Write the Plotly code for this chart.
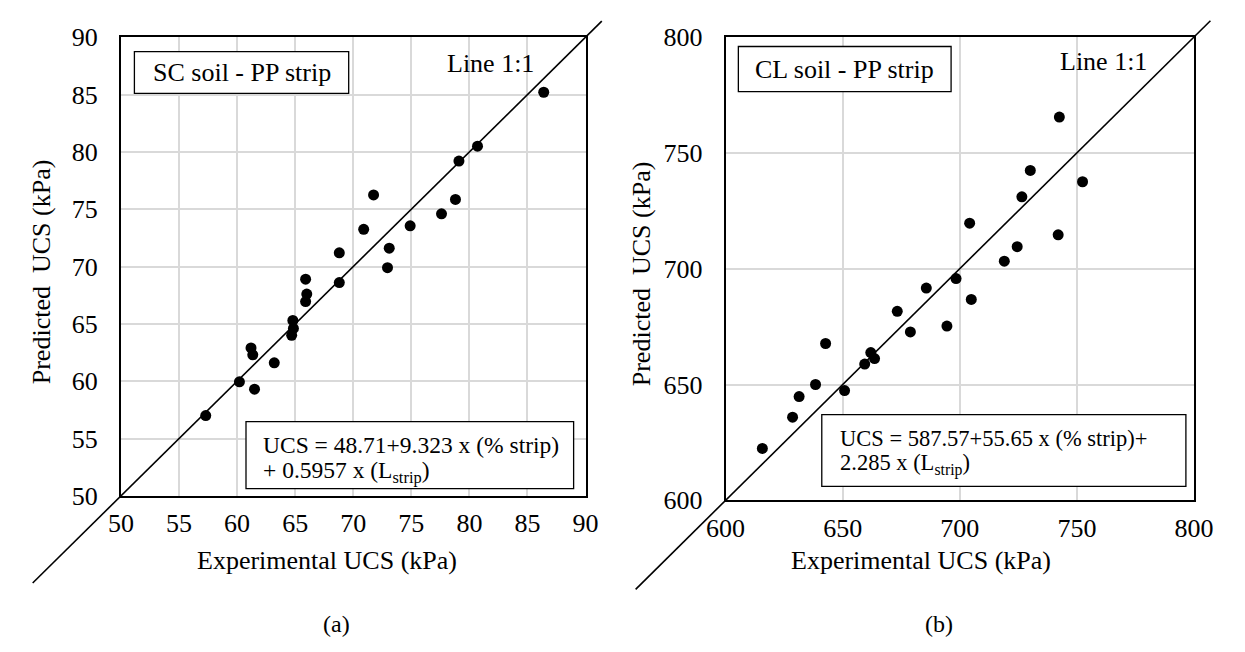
import plotly.graph_objects as go

# ---------------- data ----------------
sc_exp = [57.3, 60.2, 61.2, 61.35, 61.5, 63.2, 64.7, 64.85, 64.8, 65.9, 66.0, 65.9,
          68.8, 68.8, 70.9, 71.75, 72.95, 73.1, 74.9, 77.6, 78.8, 79.1, 80.7, 86.4]
sc_pred = [57.0, 59.95, 62.9, 62.3, 59.3, 61.6, 64.0, 64.6, 65.3, 66.95, 67.6, 68.9,
           68.6, 71.2, 73.25, 76.25, 69.9, 71.6, 73.55, 74.6, 75.85, 79.2, 80.5, 85.2]

cl_exp = [615.7, 628.6, 631.4, 638.4, 642.7, 650.8, 659.4, 662.0, 663.6, 673.3, 678.9, 685.7,
          694.5, 698.4, 704.2, 704.9, 719.0, 724.5, 726.5, 730.1, 742.0, 742.5, 752.4]
cl_pred = [622.4, 635.9, 644.8, 650.0, 667.7, 647.4, 658.8, 663.8, 661.2, 681.6, 672.7, 691.6,
           675.2, 695.7, 719.6, 686.7, 703.2, 709.5, 731.0, 742.4, 714.6, 765.4, 737.5]

sc_ticks = [50, 55, 60, 65, 70, 75, 80, 85, 90]
cl_ticks = [600, 650, 700, 750, 800]

x_title = "Experimental UCS (kPa)"
y_title = "Predicted\u00a0 UCS (kPa)"
panel_a = "SC soil - PP strip"
panel_b = "CL soil - PP strip"
eq_a = ["UCS = 48.71+9.323 x (% strip)", "+ 0.5957 x (L<sub>strip</sub>)"]
eq_b = ["UCS = 587.57+55.65 x (% strip)+", "2.285 x (L<sub>strip</sub>)"]

# ---------------- layout helpers (pixel -> paper) ----------------
W, H = 1245, 652


def fx(X):
    return X / W


def fy(Y):
    return 1 - Y / H


FONT = "Liberation Serif, Times New Roman, serif"
FS = 26
black = "#000000"

fig = go.Figure()
fig.add_trace(go.Scatter(x=sc_exp, y=sc_pred, mode="markers", xaxis="x", yaxis="y",
                         marker=dict(size=11, color=black), showlegend=False))
fig.add_trace(go.Scatter(x=cl_exp, y=cl_pred, mode="markers", xaxis="x2", yaxis="y2",
                         marker=dict(size=11, color=black), showlegend=False))

ax_common = dict(showgrid=True, gridcolor="#d9d9d9", gridwidth=1.5, zeroline=False,
                 showline=True, mirror=True, linecolor=black, linewidth=2,
                 ticks="", tickfont=dict(family=FONT, size=FS, color=black),
                 fixedrange=True)

L = dict(x0=104.3, x1=584.3, y0=24.3, y1=504.3)
R = dict(x0=729.0, x1=1213.0, y0=24.0, y1=509.0)

fig.update_layout(
    width=W, height=H, margin=dict(l=0, r=0, t=0, b=0),
    paper_bgcolor="white", plot_bgcolor="white",
    font=dict(family=FONT, size=FS, color=black),
    xaxis=dict(domain=[fx(L["x0"]), fx(L["x1"])], range=[50, 90], tickvals=sc_ticks,
               anchor="y", ticklabelstandoff=3, **ax_common),
    yaxis=dict(domain=[fy(L["y1"]), fy(L["y0"])], range=[50, 90], tickvals=sc_ticks,
               anchor="x", ticklabelstandoff=16, **ax_common),
    xaxis2=dict(domain=[fx(R["x0"]), fx(R["x1"])], range=[600, 800], tickvals=cl_ticks,
                anchor="y2", ticklabelstandoff=3, **ax_common),
    yaxis2=dict(domain=[fy(R["y1"]), fy(R["y0"])], range=[600, 800], tickvals=cl_ticks,
                anchor="x2", ticklabelstandoff=16, **ax_common),
)

shapes = []
# 1:1 lines (domain refs so they extend past the frame like the original)
for xr, yr, lo, hi in [("x domain", "y domain", -0.19, 1.035),
                       ("x2 domain", "y2 domain", -0.192, 1.035)]:
    shapes.append(dict(type="line", xref=xr, yref=yr, x0=lo, y0=lo, x1=hi, y1=hi,
                       line=dict(color=black, width=1.6), layer="above"))

boxes = [(118.2, 39.3, 339.6, 83.0), (742.2, 34.0, 962.0, 81.3),
         (233.5, 426.7, 572.0, 496.7), (828.4, 419.3, 1204.6, 494.3)]
for (a, b, c, d) in boxes:
    shapes.append(dict(type="rect", xref="paper", yref="paper",
                       x0=fx(a), x1=fx(c), y0=fy(d), y1=fy(b),
                       line=dict(color=black, width=1.3), fillcolor="white", layer="above"))
fig.update_layout(shapes=shapes)

ann = []


def add_text(text, X, Y, xanchor="center", angle=0, size=FS):
    ann.append(dict(text=text, x=fx(X), y=fy(Y), xref="paper", yref="paper",
                    xanchor=xanchor, yanchor="middle", showarrow=False, textangle=angle,
                    font=dict(family=FONT, size=size, color=black)))


add_text("Line 1:1", 486.3, 51.7)
add_text("Line 1:1", 1119.8, 50.0)
add_text(panel_a, 228.9, 61.0)
add_text(panel_b, 852.1, 57.7)
add_text(eq_a[0], 249.3, 450.7, xanchor="left", size=23.5)
add_text(eq_a[1], 249.3, 479.3, xanchor="left", size=23.5)
add_text(eq_b[0], 845.5, 444.0, xanchor="left", size=22.5)
add_text(eq_b[1], 845.5, 471.7, xanchor="left", size=22.5)
add_text(x_title, 317, 572)
add_text(x_title, 931, 572)
add_text(y_title, 23, 270, angle=-90)
add_text(y_title, 643, 272, angle=-90)
add_text("(a)", 327, 638, size=24)
add_text("(b)", 949, 638, size=24)
fig.update_layout(annotations=ann)

fig.write_html("out.html",
               config={"displayModeBar": False},
               post_script="document.body.style.margin='0px';"
                           "document.body.style.overflow='hidden';")
